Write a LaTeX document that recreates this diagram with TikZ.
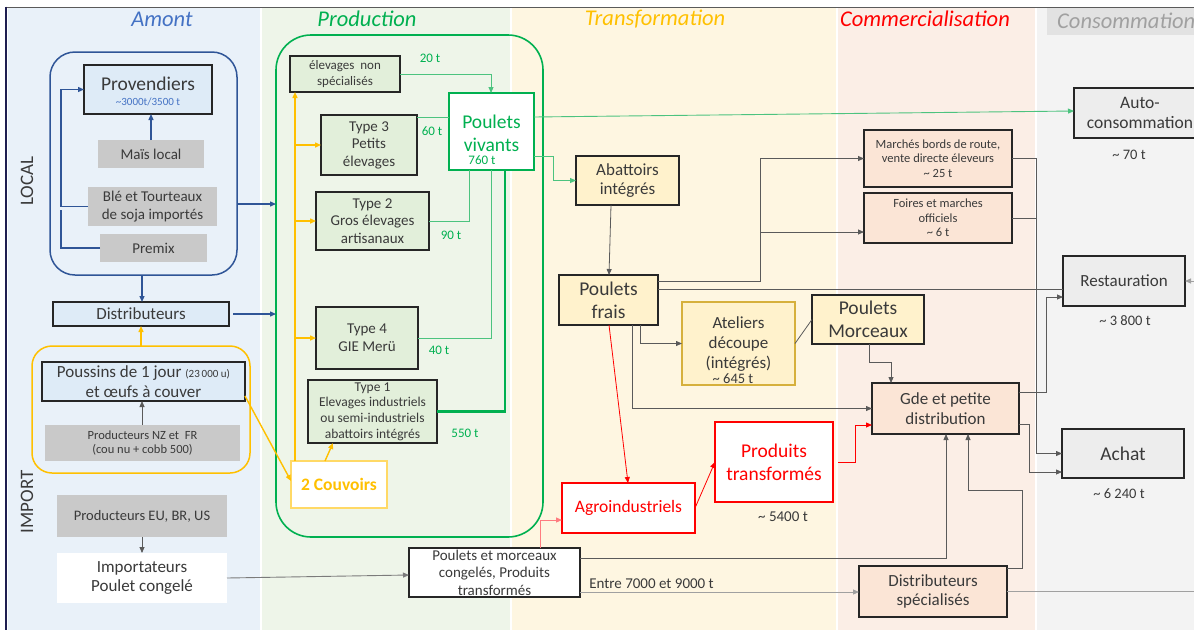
\documentclass[tikz,border=0pt]{standalone}
\usepackage{fontspec}
\setmainfont{Carlito}
\usetikzlibrary{arrows.meta,calc}
\definecolor{bgA}{HTML}{E9F1F9}
\definecolor{bgP}{HTML}{EEF5E9}
\definecolor{bgT}{HTML}{FEF6E1}
\definecolor{bgC}{HTML}{FBEEE6}
\definecolor{bgK}{HTML}{F3F3F3}
\definecolor{fBlue}{HTML}{DEEBF7}
\definecolor{fGray}{HTML}{C9C9C9}
\definecolor{fGreen}{HTML}{E2EFDA}
\definecolor{fYel}{HTML}{FFF2CC}
\definecolor{fPeach}{HTML}{FBE5D6}
\definecolor{fCons}{HTML}{EDEDED}
\definecolor{cBlue}{HTML}{2F5597}
\definecolor{tBlue}{HTML}{4472C4}
\definecolor{cGreen}{HTML}{00B050}
\definecolor{lGreen}{HTML}{4CC37F}
\definecolor{cYel}{HTML}{FFC000}
\definecolor{cYelL}{HTML}{FFD966}
\definecolor{cRed}{HTML}{FF0000}
\definecolor{cPink}{HTML}{FF7C80}
\definecolor{txt}{HTML}{3A3A3A}
\definecolor{lnk}{HTML}{5A5A5A}
\definecolor{lnkL}{HTML}{A0A0A0}
\definecolor{bline}{HTML}{262626}
\definecolor{gold}{HTML}{D6B03C}
\newcommand\myfs[1]{\fontsize{#1}{\the\dimexpr #1pt*117/100\relax}\selectfont}
\begin{document}
\begin{tikzpicture}[x=1pt,y=-1pt,
  box/.style={draw=bline, line width=1.1pt, inner sep=1pt, outer sep=0pt, align=center, text=txt},
  gbox/.style={fill=fGray, inner sep=1pt, outer sep=0pt, align=center, text=txt},
  lbl/.style={inner sep=0pt, outer sep=0pt, text=txt, align=center},
  glbl/.style={inner sep=0pt, outer sep=0pt, text=cGreen, font=\myfs{13}},
  tip/.style={-{Triangle[length=6pt,width=5pt]}},
  bl/.style={draw=cBlue, line width=1.3pt},
  gl/.style={draw=lGreen, line width=0.9pt},
  yl/.style={draw=cYel, line width=1.4pt},
  kl/.style={draw=lnk, line width=0.8pt},
  rl/.style={draw=cRed, line width=0.8pt},
  title/.style={inner sep=0pt, font=\myfs{22.5}\itshape}
]
\useasboundingbox (0,0) rectangle (1194,630);
% column backgrounds
\fill[white] (0,0) rectangle (1194,630);
\fill[bgA] (8,8) rectangle (260,630);
\fill[bgP] (262,8) rectangle (510,630);
\fill[bgT] (512,8) rectangle (836,630);
\fill[bgC] (838,8) rectangle (1035,630);
\fill[bgK] (1037,8) rectangle (1194,630);
\fill[fCons!90!gray] (1047,8) rectangle (1194,35);
\draw[draw=lnk, line width=1pt] (7,7) -- (1194,7);
\draw[draw=bline!80!blue, line width=2pt] (6,6.5) -- (6,630);
% titles
\node[title, text=tBlue] (tAmont) at (162,19) {Amont};
\node[title, text=cGreen] (tProd) at (367,19) {Production};
\node[title, text=cYel] (tTransf) at (655,19) {Transformation};
\node[title, text=cRed] (tComm) at (925,19) {Commercialisation};
\node[title, text=lnkL, anchor=west] (tCons) at (1057,21) {Consommation};
\node[lbl, rotate=90, font=\myfs{19}] (local) at (27,181) {LOCAL};
\node[lbl, rotate=90, font=\myfs{19}] (import) at (27,502) {IMPORT};
% group boxes
\node[draw=cBlue, line width=1.5pt, rounded corners=25pt, minimum width=187pt, minimum height=223pt, inner sep=0pt, outer sep=0pt] (amontbox) at (143.5,163.5) {};
\node[draw=cYel, line width=1.5pt, rounded corners=20pt, minimum width=218pt, minimum height=127pt, inner sep=0pt, outer sep=0pt] (yelbox) at (141,409.5) {};
\node[draw=cGreen, line width=1.6pt, rounded corners=35pt, minimum width=267pt, minimum height=502pt, inner sep=0pt, outer sep=0pt] (prodbox) at (409.5,286) {};
% Amont nodes
\node[box, fill=fBlue, minimum width=128pt, minimum height=49pt] (prov) at (148,89.5) {};
\node[lbl, font=\myfs{19.5}] (provt) at (148,84) {Provendiers};
\node[lbl, font=\myfs{11}, text=tBlue] (provq) at (148,101.5) {\textasciitilde 3000t/3500 t};
\node[gbox, minimum width=106pt, minimum height=28pt, font=\myfs{15}] (mais) at (151,154) {Maïs local};
\node[gbox, minimum width=129pt, minimum height=39pt, font=\myfs{15}] (ble) at (152.5,206.5) {Blé et Tourteaux\\de soja importés};
\node[gbox, minimum width=107pt, minimum height=28pt, font=\myfs{15}] (premix) at (153.5,248) {Premix};
\node[box, fill=fBlue, minimum width=176pt, minimum height=24pt, font=\myfs{17}] (dist) at (141,314) {Distributeurs};
\node[box, fill=fBlue, minimum width=203pt, minimum height=39pt, font=\myfs{17}] (pouss) at (143.5,381.5) {Poussins de 1 jour {\myfs{11}(23\,000 u)}\\et œufs à couver};
\node[gbox, minimum width=195pt, minimum height=36pt, font=\myfs{12.5}] (nz) at (142.5,443) {Producteurs NZ et \ FR\\(cou nu + cobb 500)};
\node[gbox, minimum width=170pt, minimum height=42pt, font=\myfs{14.5}] (eu) at (142,516) {Producteurs EU, BR, US};
\node[fill=white, inner sep=1pt, outer sep=0pt, align=center, text=txt, minimum width=170pt, minimum height=50pt, font=\myfs{17}] (imp) at (142,578) {Importateurs\\Poulet congelé};
% Production nodes
\node[box, fill=fGreen, minimum width=110pt, minimum height=36pt, font=\myfs{13}] (elev) at (345,74) {élevages \ non\\spécialisés};
\node[box, fill=fGreen, minimum width=96pt, minimum height=60pt, font=\myfs{15}] (t3) at (369,145) {Type 3\\Petits\\élevages};
\node[box, fill=fGreen, minimum width=113pt, minimum height=58pt, font=\myfs{15}] (t2) at (372.5,221) {Type 2\\Gros élevages\\artisanaux};
\node[box, fill=fGreen, minimum width=102pt, minimum height=62pt, font=\myfs{15}] (t4) at (367,338) {Type 4\\GIE Merü};
\node[box, fill=fGreen, minimum width=129pt, minimum height=63pt, font=\myfs{13.5}] (t1) at (372.5,411.5) {Type 1\\Elevages industriels\\ou semi-industriels\\abattoirs intégrés};
\node[draw=cGreen, line width=1.8pt, fill=white, minimum width=85pt, minimum height=77pt, inner sep=0pt, outer sep=0pt] (pv) at (491.5,131.5) {};
\node[lbl, text=cGreen, font=\myfs{19.5}] (pvt) at (491.5,133) {Poulets\\vivants};
\node[glbl] (l760) at (482,160) {760 t};
\node[draw=cYelL, line width=2.5pt, fill=white, minimum width=96pt, minimum height=47pt, inner sep=0pt, outer sep=0pt, text=cYel, font=\myfs{17.5}\bfseries] (couv) at (339,484.5) {2 Couvoirs};
\node[glbl] (l20) at (430,58) {20 t};
\node[glbl] (l60) at (432,131) {60 t};
\node[glbl] (l90) at (451,235) {90 t};
\node[glbl] (l40) at (439,350) {40 t};
\node[glbl] (l550) at (465,433) {550 t};
% Transformation nodes
\node[box, fill=fYel, minimum width=103pt, minimum height=49pt, font=\myfs{17}] (abat) at (627.5,180.5) {Abattoirs\\intégrés};
\node[box, fill=fYel, line width=1.5pt, minimum width=99pt, minimum height=50pt, font=\myfs{19.5}] (pf) at (608.5,300) {Poulets\\frais};
\node[draw=gold, line width=1.3pt, fill=fYel, minimum width=113pt, minimum height=83pt, inner sep=0pt, outer sep=0pt] (atel) at (738.5,343.5) {};
\node[lbl, font=\myfs{17}] (atelt) at (738.5,344) {Ateliers\\découpe\\(intégrés)};
\node[lbl, font=\myfs{14.5}] (l645) at (733,379) {\textasciitilde\ 645 t};
\node[box, fill=fYel, line width=1.5pt, minimum width=112pt, minimum height=49pt, font=\myfs{19.5}] (pmorc) at (868,319.5) {Poulets\\Morceaux};
\node[draw=cRed, line width=1.3pt, fill=white, minimum width=133pt, minimum height=50pt, inner sep=0pt, outer sep=0pt, text=cRed, font=\myfs{17.5}] (agro) at (628.5,508) {Agroindustriels};
\node[draw=cRed, line width=1.3pt, fill=white, minimum width=118pt, minimum height=80pt, inner sep=0pt, outer sep=0pt, text=cRed, font=\myfs{19.5}, align=center] (ptr) at (774,462) {Produits\\transformés};
\node[lbl, font=\myfs{15}] (l5400) at (783,517) {\textasciitilde\ 5400 t};
\node[box, fill=white, minimum width=171pt, minimum height=49pt, font=\myfs{15}] (pmc) at (494.5,572.5) {Poulets et morceaux\\congelés, Produits\\transformés};
% Commercialisation nodes
\node[box, fill=fPeach, minimum width=148pt, minimum height=57pt, font=\myfs{12.5}] (march) at (938,158.5) {Marchés bords de route,\\vente directe éleveurs\\\textasciitilde\ 25 t};
\node[box, fill=fPeach, minimum width=148pt, minimum height=50pt, font=\myfs{12.5}] (foir) at (938,218) {Foires et marches\\officiels\\\textasciitilde\ 6 t};
\node[box, fill=fPeach, line width=1.5pt, minimum width=147pt, minimum height=51pt, font=\myfs{17}] (gde) at (945.5,408.5) {Gde et petite\\distribution};
\node[box, fill=fPeach, minimum width=148pt, minimum height=51pt, font=\myfs{17}] (dspec) at (933,591.5) {Distributeurs\\spécialisés};
% Consommation nodes
\node[box, fill=fCons, minimum width=132pt, minimum height=50pt, font=\myfs{17.5}] (autoc) at (1140,113) {Auto-\\consommation};
\node[lbl, font=\myfs{14.5}] (l70) at (1129,155) {\textasciitilde\ 70 t};
\node[box, fill=fCons, minimum width=122pt, minimum height=50pt, font=\myfs{17}] (resto) at (1124,281) {Restauration};
\node[lbl, font=\myfs{14.5}] (l3800) at (1125,321) {\textasciitilde\ 3 800 t};
\node[box, fill=fCons, line width=1.5pt, minimum width=122pt, minimum height=49pt, font=\myfs{19.5}] (achat) at (1123,453.5) {Achat};
\node[lbl, font=\myfs{14.5}] (l6240) at (1119,494) {\textasciitilde\ 6 240 t};
% ---- connectors: Amont
\draw[bl, tip] (ble.west) -- ++(-27,0) |- (prov.west);
\draw[bl] (premix.west) -- ++(-39,0) -- ++(0,-38);
\draw[bl, tip] (mais.north) -- (mais.north |- prov.south);
\draw[bl, tip] (amontbox.east |- 0,204) -- (prodbox.west |- 0,204);
\draw[bl, tip] (amontbox.south -| 142,0) -- (dist.north -| 142,0);
\draw[bl, tip] ([xshift=4pt]dist.east) -- (prodbox.west |- dist.east);
\draw[yl, tip] (yelbox.north -| 141,0) -- (dist.south -| 141,0);
\draw[kl, tip] (nz.north -| 142,0) -- (pouss.south -| 142,0);
\draw[kl, tip] (eu.south) -- (imp.north);
\draw[yl, tip] (pouss.east |- 0,396) -- (couv.west |- 0,481);
\draw[draw=lnk!80, line width=0.9pt, tip] (imp.east) -- (pmc.west |- 0,575);
% Production
\draw[yl] (couv.north -| 295,0) -- (295,237);
\draw[yl, tip] (295,238) -- (elev.south -| 295,0);
\draw[yl, tip] (295,145) -- (t3.west);
\draw[yl, tip] (295,221) -- (t2.west);
\draw[yl, tip] (295,338) -- (t4.west);
\draw[yl, tip] (couv.north -| 325,0) -- (t1.south -| 333,0);
\draw[gl, tip] (elev.east) -| (pv.north -| 491,0);
\draw[gl] (t3.east |- 0,117) -- (pv.west |- 0,117);
\draw[gl] (t2.east) -| (pv.south -| 469,0);
\draw[gl] (t4.east) -| (pv.south -| 491,0);
\draw[draw=cGreen, line width=2.6pt] (t1.east) -| (pv.south -| 505,0);
\draw[gl, tip] (pv.east |- 0,117) -- (autoc.west |- 0,111);
\draw[gl, tip] (pv.east |- 0,156) -- (553,156) |- (abat.west);
% Transformation
\draw[kl, tip] (abat.south -| 611,0) -- (pf.north -| 609,0);
\draw[kl, tip] (pf.east |- 0,281) -- (760,281) |- (march.west);
\draw[kl, tip] (760,232) -- (foir.west |- 0,232);
\draw[kl] (pf.east |- 0,289) -- (resto.west |- 0,289);
\draw[kl, tip] (pf.south -| 640,0) |- (atel.west);
\draw[kl, tip] (pf.south -| 632,0) |- (gde.west);
\draw[rl, tip] (pf.south -| 609,0) -- (agro.north -| 628,0);
\draw[kl] (atel.east) -- (pmorc.west);
\draw[kl, tip] (pmorc.south -| 869,0) -- (869,362) -| (gde.north -| 891,0);
\draw[rl, tip] (agro.east) -- (ptr.west);
\draw[rl, tip] ([xshift=5pt]ptr.east) -- (855,462) |- (gde.west |- 0,425);
\draw[draw=cPink, line width=0.9pt, tip] (pmc.north -| 540,0) |- (agro.west |- 0,520);
\draw[kl, tip] (pmc.east |- 0,558) -| (gde.south -| 946,0);
\draw[draw=lnkL, line width=0.9pt, tip] (pmc.east |- 0,592) -- (dspec.west |- 0,592) node[lbl, midway, above=3pt, xshift=-68pt, font=\myfs{15}] (lentre) {Entre 7000 et 9000 t};
% Commercialisation
\draw[kl, tip] (march.east) -- (1036,158.5) |- (achat.west);
\draw[kl] (foir.east) -- (1036,218);
\draw[kl, tip] (gde.east |- 0,392) -- (1046,392) |- (resto.west |- 0,297);
\draw[kl, tip] (gde.east |- 0,424) -- (1029,424) |- (achat.west |- 0,472);
\draw[kl, tip] (dspec.east |- 0,568) -- (1022,568) -- (1022,490) -| (gde.south -| 968,0);
\draw[draw=lnkL, line width=0.9pt, tip] (dspec.east) -- (1205,591.5) -- (1205,281) -- (resto.east);
\end{tikzpicture}
\end{document}
